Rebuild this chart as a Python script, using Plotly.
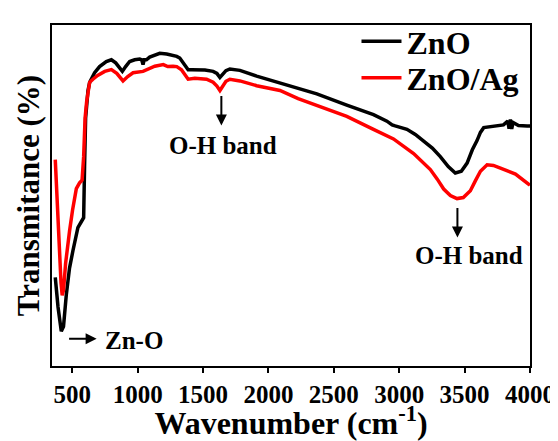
import plotly.graph_objects as go

# ZnO (black) spectrum: wavenumber (cm-1) and relative transmittance
zno_wn = [370, 391, 416, 433, 454, 479, 505, 543, 569, 587, 594, 602, 620, 633, 671, 709,
          760, 799, 832, 883, 908, 939, 977, 1016, 1031, 1041, 1050, 1067, 1092, 1131, 1169,
          1222, 1271, 1299, 1322, 1353, 1386, 1414, 1450, 1514, 1577, 1606, 1629, 1652, 1675,
          1705, 1782, 1910, 2012, 2088, 2227, 2370, 2599, 2803, 2906, 2946, 2969, 3059, 3123,
          3186, 3253, 3314, 3375, 3429, 3475, 3519, 3559, 3595, 3621, 3646, 3697, 3749, 3797,
          3830, 3840, 3850, 3860, 3870, 3912, 3978, 4000]
zno_t = [26.0, 17.3, 10.2, 11.6, 20.7, 28.7, 33.8, 40.6, 42.3, 43.5, 58.5, 72.7, 80.7, 83.2,
         86.0, 87.8, 89.3, 89.8, 88.9, 86.4, 87.8, 89.3, 89.8, 90.0, 89.8, 88.4, 89.8, 89.8,
         90.6, 91.2, 91.7, 91.5, 91.2, 90.8, 90.3, 88.6, 86.9, 86.9, 86.9, 86.8, 86.4, 85.8,
         84.6, 85.5, 86.6, 87.1, 86.7, 85.0, 83.8, 83.1, 81.5, 79.8, 76.5, 73.7, 71.8, 70.7,
         70.4, 69.4, 67.9, 66.1, 63.9, 61.4, 58.5, 56.6, 57.1, 59.5, 63.4, 66.1, 68.5, 69.9,
         70.2, 70.4, 70.7, 71.8, 69.6, 72.3, 69.5, 71.4, 70.5, 70.4, 70.4]

# ZnO/Ag (red) spectrum
ag_wn = [370, 384, 399, 414, 423, 433, 449, 464, 479, 502, 531, 556, 575, 587, 598, 610, 633,
         658, 694, 748, 799, 840, 888, 924, 965, 1041, 1092, 1131, 1196, 1230, 1271, 1299,
         1335, 1360, 1386, 1437, 1527, 1577, 1606, 1629, 1652, 1675, 1705, 1782, 1910, 2088,
         2227, 2370, 2599, 2803, 2956, 3110, 3238, 3291, 3340, 3391, 3442, 3490, 3544, 3582,
         3621, 3672, 3720, 3774, 3889, 3991, 4000]
ag_t = [60.5, 47.2, 33.0, 24.4, 20.7, 22.2, 30.1, 35.8, 39.5, 45.7, 52.0, 53.7, 54.5, 61.4,
        72.7, 77.6, 83.2, 84.1, 85.2, 86.4, 86.9, 85.8, 83.6, 84.9, 86.0, 86.4, 87.2, 87.9,
        88.4, 87.8, 87.9, 87.8, 86.9, 85.5, 84.1, 84.4, 84.1, 83.2, 82.1, 80.8, 82.1, 83.5,
        84.1, 83.6, 82.2, 80.8, 78.4, 76.5, 73.2, 69.4, 66.6, 62.3, 57.6, 54.8, 51.9, 50.0,
        49.1, 49.4, 51.4, 54.3, 57.1, 59.0, 58.8, 58.0, 56.3, 53.3, 53.0]

series_names = ["ZnO", "ZnO/Ag"]
x_ticks = [500, 1000, 1500, 2000, 2500, 3000, 3500, 4000]

FONT = "Liberation Serif"

fig = go.Figure()
fig.add_trace(go.Scatter(x=zno_wn, y=zno_t, mode="lines", name=series_names[0],
                         line=dict(color="black", width=3.5), legend="legend"))
fig.add_trace(go.Scatter(x=ag_wn, y=ag_t, mode="lines", name=series_names[1],
                         line=dict(color="#ff0000", width=3.5), legend="legend2"))

ann_font = dict(family=FONT, size=25, color="black", weight="bold")
arrow = dict(showarrow=True, arrowhead=2, arrowsize=1.1, arrowwidth=2, arrowcolor="black", text="")
fig.add_annotation(x=1640, y=70.5, ax=0, ay=-31, **arrow)
fig.add_annotation(x=1650, y=64.6, text="O-H band", showarrow=False, font=ann_font)
fig.add_annotation(x=3445, y=37.7, ax=0, ay=-31, **arrow)
fig.add_annotation(x=3536, y=32.5, text="O-H band", showarrow=False, font=ann_font)
fig.add_annotation(x=686, y=8.0, ax=-29, ay=0, **arrow)
fig.add_annotation(x=732, y=7.4, text="Zn-O", showarrow=False, xanchor="left", font=ann_font)

leg_font = dict(family=FONT, size=32, color="black", weight="bold")
leg_common = dict(xanchor="left", yanchor="middle", bgcolor="rgba(0,0,0,0)",
                  borderwidth=0, font=leg_font, itemwidth=40)

# The page body adds an 8 px offset, so the figure is 8 px smaller on each axis
fig.update_layout(
    width=550, height=433,
    margin=dict(l=44, r=28, t=6, b=75),
    paper_bgcolor="white", plot_bgcolor="white",
    font=dict(family=FONT, color="black", weight="bold"),
    showlegend=True,
    legend=dict(x=0.637, y=0.952, **leg_common),
    legend2=dict(x=0.637, y=0.845, **leg_common),
    xaxis=dict(range=[345, 4000], tickvals=x_ticks, ticktext=[str(v) for v in x_ticks],
               ticks="outside", ticklen=5, tickwidth=2, tickcolor="black",
               showline=True, linewidth=2, linecolor="black", mirror=True,
               showgrid=False, zeroline=False, automargin=False,
               tickfont=dict(family=FONT, size=25, color="black", weight="bold"),
               title=dict(text="Wavenumber (cm<sup>-1</sup>)", standoff=2,
                          font=dict(family=FONT, size=32, color="black", weight="bold"))),
    yaxis=dict(range=[0, 100], showticklabels=False, ticks="",
               showline=True, linewidth=2, linecolor="black", mirror=True,
               showgrid=False, zeroline=False, automargin=False,
               title=dict(text="Transmitance (%)", standoff=1,
                          font=dict(family=FONT, size=31, color="black", weight="bold"))),
)

fig.write_html("out.html")
